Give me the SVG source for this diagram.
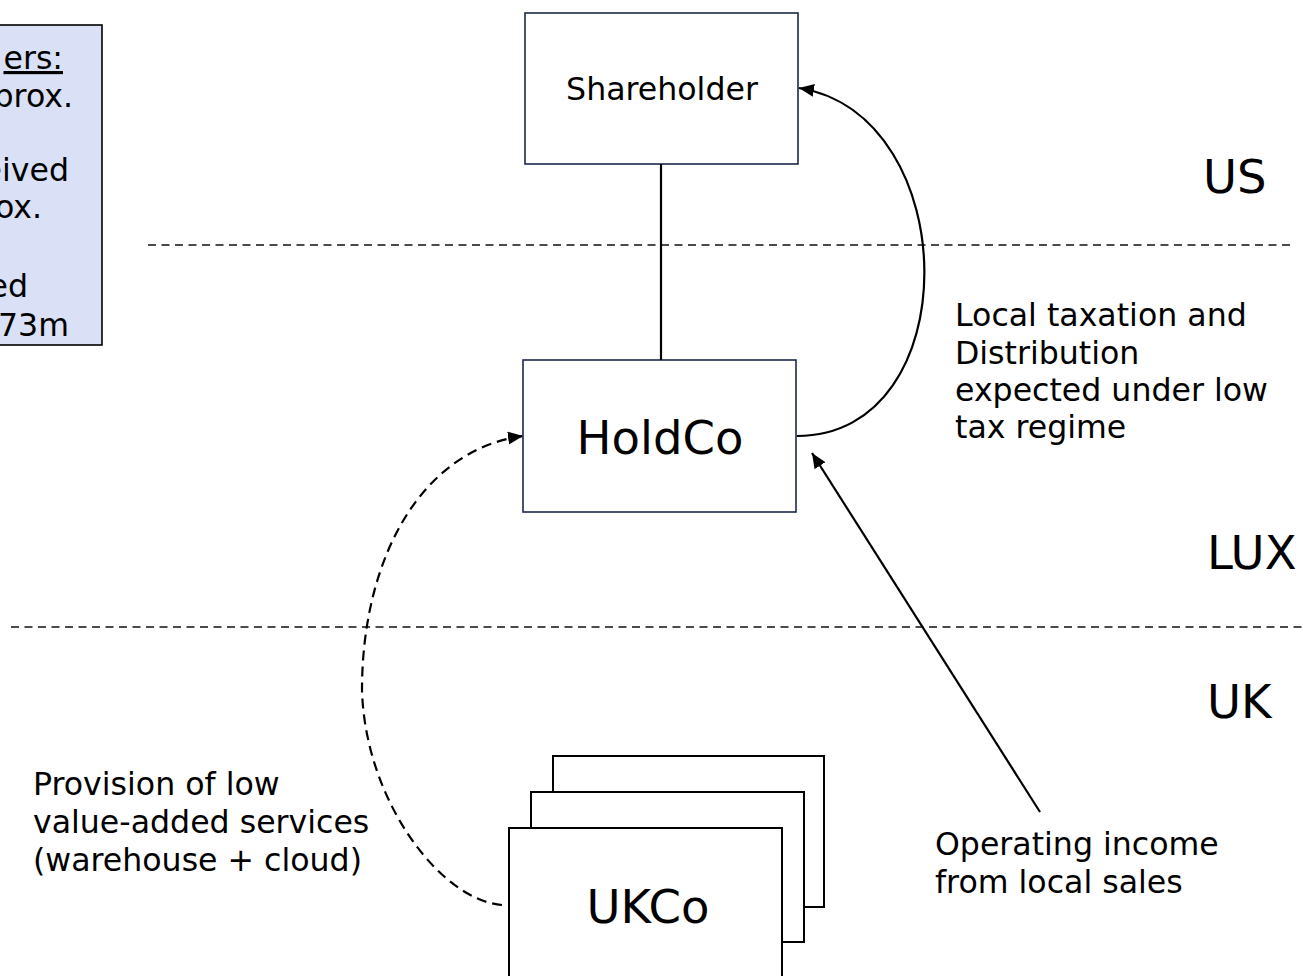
<svg xmlns="http://www.w3.org/2000/svg" width="1303" height="976" viewBox="0 0 1303 976">
<style>
text { font-family: "DejaVu Sans", Verdana, sans-serif; fill: #000; }
.t { font-size: 31.6px; }
.big { font-size: 46.5px; }
.node { fill: #fff; stroke: #1c2846; stroke-width: 1.6; }
.uk { fill: #fff; stroke: #000; stroke-width: 2; }
.sep { fill: none; stroke: #111; stroke-width: 1.7; stroke-dasharray: 8 5.5; }
.conn { fill: none; stroke: #000; stroke-width: 2.2; }
.dash { stroke-dasharray: 10 6; }
</style>
<defs>
<marker id="ah" markerUnits="userSpaceOnUse" markerWidth="16" markerHeight="14" refX="15" refY="6.5" orient="auto">
<path d="M0,0 L15,6.5 L0,13 z" fill="#000" stroke="none"/>
</marker>
</defs>
<rect width="1303" height="976" fill="#fff"/>

<g id="separators">
<path class="sep" d="M148,245 H1290"/>
<path class="sep" d="M11,627 H1303"/>
</g>

<g id="legend-box">
<rect x="-10" y="25" width="112" height="320" fill="#dae0f5" stroke="#000" stroke-width="1.6"/>
<text class="t" x="63" y="69" text-anchor="end" text-decoration="underline">ers:</text>
<text class="t" x="73" y="107" text-anchor="end">prox.</text>
<text class="t" x="69" y="181" text-anchor="end">eived</text>
<text class="t" x="42" y="218" text-anchor="end">ox.</text>
<text class="t" x="28" y="297" text-anchor="end">ed</text>
<text class="t" x="69" y="336" text-anchor="end">73m</text>
</g>

<g id="shareholder">
<rect class="node" x="525" y="13" width="273" height="151"/>
<text class="t" x="662" y="100" text-anchor="middle">Shareholder</text>
</g>

<g id="holdco">
<rect class="node" x="523" y="360" width="273" height="152"/>
<text class="big" x="660" y="454" text-anchor="middle">HoldCo</text>
</g>

<g id="ukco">
<rect class="uk" x="553" y="756" width="271" height="151"/>
<rect class="uk" x="531" y="792" width="273" height="150"/>
<rect class="uk" x="509" y="828" width="273" height="160"/>
<text class="big" x="648" y="923" text-anchor="middle">UKCo</text>
</g>

<g id="connectors">
<path class="conn" d="M661,164 V360" stroke-width="1.6"/>
<path class="conn" d="M797,436 C968,436 965,115 799,88" marker-end="url(#ah)"/>
<path class="conn" d="M1040,812 L812,453" marker-end="url(#ah)"/>
<path class="conn dash" d="M502,905 C440,900 365,800 362,690 C362,560 420,450 523,436" marker-end="url(#ah)"/>
</g>

<g id="labels">
<text class="big" x="1203" y="193">US</text>
<text class="big" x="1207" y="569">LUX</text>
<text class="big" x="1207" y="718">UK</text>
<text class="t" x="955" y="326">Local taxation and</text>
<text class="t" x="955" y="364">Distribution</text>
<text class="t" x="955" y="401">expected under low</text>
<text class="t" x="955" y="438">tax regime</text>
<text class="t" x="935" y="855">Operating income</text>
<text class="t" x="935" y="893">from local sales</text>
<text class="t" x="33" y="795">Provision of low</text>
<text class="t" x="33" y="833">value-added services</text>
<text class="t" x="33" y="871">(warehouse + cloud)</text>
</g>
</svg>
